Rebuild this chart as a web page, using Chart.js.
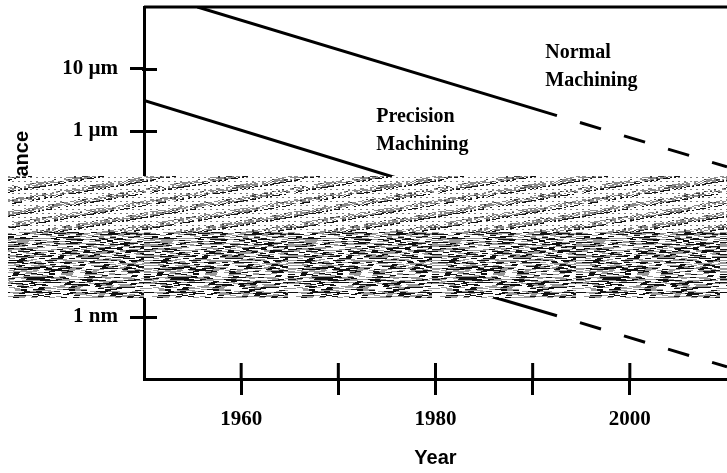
<!DOCTYPE html>
<html lang="en">
<head>
    <meta charset="UTF-8">
    <title>Machining Tolerance by Year</title>
    <script src="https://cdn.jsdelivr.net/npm/chart.js"></script>
    <style>
        body { margin: 0; background: #fff; }
        #wrap { width: 727px; height: 473px; }
    </style>
</head>
<body>
    <div id="wrap"><canvas id="toleranceChart" width="727" height="473"></canvas></div>

    <script>
        // tolerance in micrometres
        const normalYears = [1955.5, 1992.5, 2010];
        const normalTol = [100, 1.77, 0.264];
        const precisionYears = [1950, 1992.5, 2010];
        const precisionTol = [3.1, 0.028, 0.0041];
        const ultraYears = [1950, 1992.5, 2010];
        const ultraTol = [0.095, 0.00105, 0.000157];

        const yTickValues = [0.001, 0.01, 0.1, 1, 10];
        const yTickLabels = ['1 nm', '10 nm', '100 nm', '1 \u00b5m', '10 \u00b5m'];
        const xTickLabels = [1960, 1980, 2000];
        const xTickMarks = [1960, 1970, 1980, 1990, 2000];

        // region label anchors: [year, tolerance, lines]
        const regionLabels = [
            [1991.3, 17.9, ['Normal', 'Machining']],
            [1973.9, 1.71, ['Precision', 'Machining']]
        ];

        // scanned noise band across the middle (tolerance range, µm)
        const bandTop = 0.19;
        const bandBottom = 0.002;

        const serifBold = { family: "'Liberation Serif', 'Times New Roman', serif", size: 21, weight: 'bold' };
        const sansBold = { family: "'Liberation Sans', Arial, sans-serif", size: 20, weight: 'bold' };

        function toPoints(xs, ys) {
            return xs.map((x, i) => ({ x: x, y: ys[i] }));
        }

        function lineSet(label, xs, ys) {
            return {
                label: label,
                data: toPoints(xs, ys),
                borderColor: '#000',
                borderWidth: 3,
                pointRadius: 0,
                tension: 0,
                fill: false,
                segment: {
                    borderDash: c => c.p0DataIndex >= 1 ? [22, 24] : undefined,
                    borderDashOffset: c => c.p0DataIndex >= 1 ? 22 : undefined
                }
            };
        }

        // fixed integer hash, only used for the scan-noise texture
        function hash(a, b) {
            let h = (a * 374761393 + b * 668265263) | 0;
            h = Math.imul(h ^ (h >>> 13), 1274126177);
            return (h ^ (h >>> 16)) >>> 0;
        }

        function bandTexture(w, h) {
            const c = document.createElement('canvas');
            c.width = w; c.height = h;
            const g = c.getContext('2d');
            g.fillStyle = '#fff';
            g.fillRect(0, 0, w, h);
            const split = Math.round(h * 0.46);
            // upper part: dotted white with slanted grey streaks
            for (let y = 0; y < split; y++) {
                for (let x = 0; x < w; x++) {
                    const q = x + y * 6;
                    const p = q % 72;
                    const strength = hash(Math.floor(q / 72), x >> 4) % 3;
                    const n = hash(x >> 1, y) % 10;
                    if (p < 34) {
                        if (p > 26 && n < 6) g.fillStyle = '#111';
                        else if (n < 4 + strength) g.fillStyle = '#8a8a8a';
                        else if (n < 5 + strength) g.fillStyle = '#3a3a3a';
                        else continue;
                        g.fillRect(x, y, 1, 1);
                    } else if (x % 6 === 0 && y % 4 === 1) {
                        g.fillStyle = '#777';
                        g.fillRect(x, y, 2, 1);
                    }
                }
            }
            // lower part: dense horizontal streaks
            for (let y = split; y < h; y++) {
                const shift = hash(y, 7) % 6;
                for (let x = -6; x < w; x += 6) {
                    const n = hash(((x + shift) / 6) | 0, y) % 10;
                    if (n < 3) g.fillStyle = '#111';
                    else if (n < 6) g.fillStyle = '#999';
                    else continue;
                    g.fillRect(x + shift, y, 6, 1);
                }
            }
            return c;
        }

        const framePlugin = {
            id: 'frame',
            afterDatasetsDraw(chart) {
                const { ctx, chartArea, scales } = chart;
                ctx.save();
                ctx.strokeStyle = '#000';
                ctx.lineWidth = 3;
                // top frame line
                ctx.beginPath();
                ctx.moveTo(chartArea.left, chartArea.top);
                ctx.lineTo(chartArea.right, chartArea.top);
                ctx.stroke();
                // inner halves of tick marks
                ctx.beginPath();
                xTickMarks.forEach(v => {
                    const px = scales.x.getPixelForValue(v);
                    ctx.moveTo(px, chartArea.bottom);
                    ctx.lineTo(px, chartArea.bottom - 16);
                });
                yTickValues.forEach(v => {
                    const py = Math.round(scales.y.getPixelForValue(v)) + 0.5;
                    ctx.moveTo(chartArea.left - 2, py);
                    ctx.lineTo(chartArea.left + 13, py);
                });
                ctx.stroke();
                // region labels
                ctx.fillStyle = '#000';
                ctx.font = 'bold 20px ' + serifBold.family;
                ctx.textAlign = 'left';
                ctx.textBaseline = 'middle';
                regionLabels.forEach(([yr, tol, lines]) => {
                    const px = scales.x.getPixelForValue(yr);
                    const py = scales.y.getPixelForValue(tol);
                    lines.forEach((t, i) => ctx.fillText(t, px, py + i * 28));
                });
                ctx.restore();
            },
            afterDraw(chart) {
                const { ctx, scales, width } = chart;
                ctx.save();
                // y axis title, rotated
                ctx.fillStyle = '#000';
                ctx.font = 'bold 20px ' + sansBold.family;
                ctx.translate(28, 131);
                ctx.rotate(-Math.PI / 2);
                ctx.textAlign = 'right';
                ctx.textBaseline = 'alphabetic';
                ctx.fillText('Tolerance', 0, 0);
                ctx.restore();

                // noise band over the middle
                const top = Math.round(scales.y.getPixelForValue(bandTop));
                const bottom = Math.round(scales.y.getPixelForValue(bandBottom));
                const tex = bandTexture(144, bottom - top);
                ctx.save();
                ctx.translate(0, top);
                ctx.fillStyle = ctx.createPattern(tex, 'repeat-x');
                ctx.fillRect(8, 0, width - 8, bottom - top);
                ctx.restore();
            }
        };

        const ctx = document.getElementById('toleranceChart').getContext('2d');

        new Chart(ctx, {
            type: 'line',
            data: {
                datasets: [
                    lineSet('Normal Machining', normalYears, normalTol),
                    lineSet('Precision Machining', precisionYears, precisionTol),
                    lineSet('Ultra-precision Machining', ultraYears, ultraTol)
                ]
            },
            options: {
                responsive: false,
                animation: false,
                layout: { padding: { top: 7, left: 0, right: 0, bottom: 0 } },
                plugins: {
                    legend: { display: false },
                    tooltip: { enabled: false }
                },
                scales: {
                    x: {
                        type: 'linear',
                        min: 1950,
                        max: 2010,
                        border: { display: true, color: '#000', width: 3 },
                        grid: {
                            drawOnChartArea: false,
                            tickLength: 16,
                            lineWidth: 3,
                            color: c => xTickMarks.includes(c.tick && c.tick.value) ? '#000' : 'rgba(0,0,0,0)'
                        },
                        ticks: {
                            stepSize: 10,
                            padding: 12,
                            color: '#000',
                            font: serifBold,
                            maxRotation: 0,
                            callback: v => xTickLabels.includes(v) ? String(v) : ''
                        },
                        title: {
                            display: true,
                            text: 'Year',
                            color: '#000',
                            font: sansBold,
                            padding: { top: 0, bottom: 3 }
                        },
                        afterFit(scale) {
                            scale.height = 94;
                            scale.paddingLeft = 0;
                            scale.paddingRight = 0;
                        }
                    },
                    y: {
                        type: 'logarithmic',
                        min: 0.0001,
                        max: 100,
                        border: { display: true, color: '#000', width: 3 },
                        grid: {
                            drawOnChartArea: false,
                            tickLength: 14,
                            lineWidth: 3,
                            color: '#000'
                        },
                        afterBuildTicks(scale) {
                            scale.ticks = yTickValues.map(v => ({ value: v }));
                        },
                        ticks: {
                            padding: 12,
                            color: '#000',
                            font: serifBold,
                            callback: (v) => {
                                const i = yTickValues.indexOf(v);
                                return i >= 0 ? yTickLabels[i] : '';
                            }
                        },
                        afterFit(scale) {
                            scale.width = 144;
                            scale.paddingTop = 0;
                            scale.paddingBottom = 0;
                        }
                    }
                }
            },
            plugins: [framePlugin]
        });
    </script>
</body>
</html>
